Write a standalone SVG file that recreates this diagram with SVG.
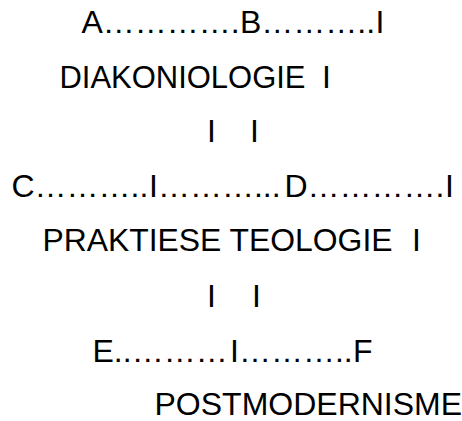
<svg xmlns="http://www.w3.org/2000/svg" width="462" height="421" viewBox="0 0 462 421">
<style>
text { font-family: "Liberation Sans", Arial, sans-serif; font-size: 32px; fill: #000; }
</style>
<rect width="462" height="421" fill="#fff"/>
<g id="line1"><text y="33"><tspan x="81.5">A</tspan><tspan>………….</tspan><tspan x="240">B</tspan><tspan>………..</tspan><tspan x="375.5">I</tspan></text></g>
<g id="line2"><text x="59.5" y="88" textLength="246" lengthAdjust="spacingAndGlyphs">DIAKONIOLOGIE</text><text x="322" y="88">I</text></g>
<g id="line3"><text y="142"><tspan x="207">I</tspan><tspan x="250">I</tspan></text></g>
<g id="line4"><text y="197"><tspan x="11.5">C</tspan><tspan>………..</tspan><tspan x="149">I</tspan><tspan>………...</tspan><tspan x="284.5">D</tspan><tspan>………….</tspan><tspan x="445">I</tspan></text></g>
<g id="line5"><text x="42.5" y="251" textLength="350" lengthAdjust="spacingAndGlyphs">PRAKTIESE TEOLOGIE</text><text x="412" y="251">I</text></g>
<g id="line6"><text y="307"><tspan x="207">I</tspan><tspan x="252">I</tspan></text></g>
<g id="line7"><text y="362"><tspan x="92.5">E</tspan><tspan>..………</tspan><tspan x="230">I</tspan><tspan>………..</tspan><tspan x="353">F</tspan></text></g>
<g id="line8"><text y="415"><tspan x="154.5">POSTMODERNISME</tspan></text></g>
</svg>
